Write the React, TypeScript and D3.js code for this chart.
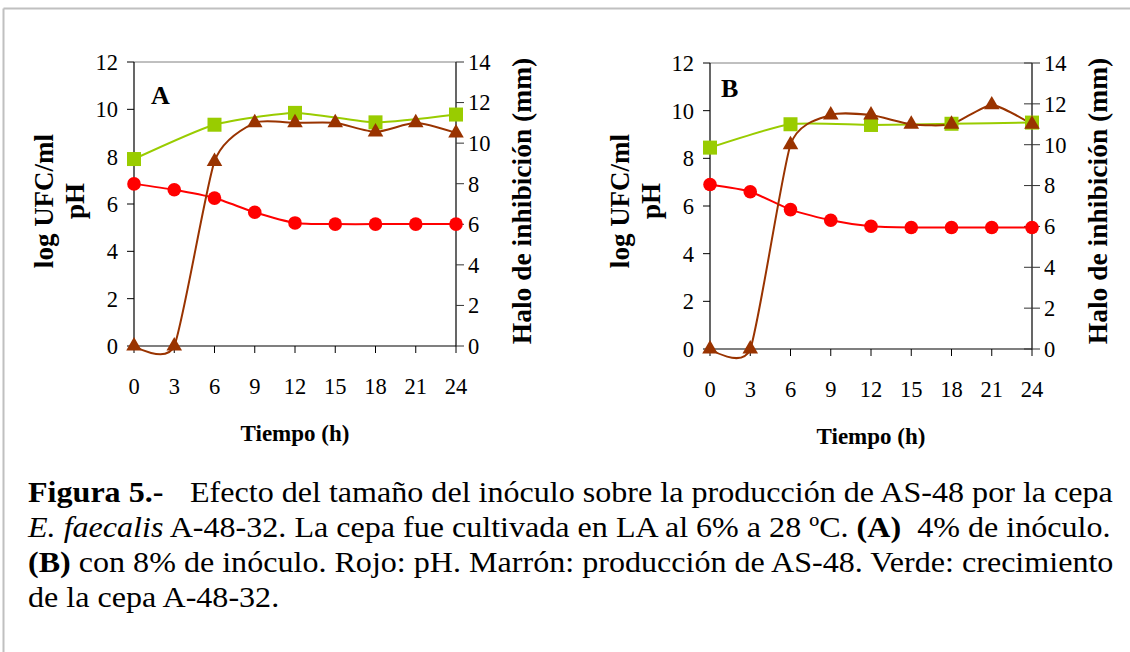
import React from "react";
import * as d3 from "d3";

const hours = [0, 3, 6, 9, 12, 15, 18, 21, 24];
const growthHours = [0, 6, 12, 18, 24];
const xTicks = [0, 3, 6, 9, 12, 15, 18, 21, 24];
const leftTicks = [0, 2, 4, 6, 8, 10, 12];
const rightTicks = [0, 2, 4, 6, 8, 10, 12, 14];

const growthA = [7.9, 9.35, 9.85, 9.45, 9.78];
const phA = [6.85, 6.6, 6.25, 5.65, 5.2, 5.15, 5.15, 5.15, 5.15];
const haloA = [0, 0, 9.1, 11.0, 11.0, 11.0, 10.55, 11.0, 10.5];

const growthB = [8.45, 9.43, 9.4, 9.45, 9.5];
const phB = [6.9, 6.6, 5.85, 5.4, 5.15, 5.1, 5.1, 5.1, 5.1];
const haloB = [0, 0, 10.0, 11.45, 11.45, 11.0, 11.0, 11.95, 11.0];

const GREEN = "#99cc00";
const RED = "#ff0000";
const BROWN = "#993300";
const FS = { fontFamily: "Liberation Serif" };

type PanelProps = {
  left: number; right: number; top: number; bottom: number;
  label: string; labelX: number; labelY: number;
  growth: number[]; ph: number[]; halo: number[];
  rightCross: boolean;
};

function Panel(p: PanelProps) {
  const x = d3.scaleLinear().domain([0, 24]).range([p.left, p.right]);
  const yL = d3.scaleLinear().domain([0, 12]).range([p.bottom, p.top]);
  const yR = d3.scaleLinear().domain([0, 14]).range([p.bottom, p.top]);
  const curve = d3.curveCardinal.tension(0.4);
  const lineL = d3.line<[number, number]>().x(d => x(d[0])).y(d => yL(d[1])).curve(curve);
  const lineR = d3.line<[number, number]>().x(d => x(d[0])).y(d => yR(d[1])).curve(curve);
  const gData = growthHours.map((h, i) => [h, p.growth[i]] as [number, number]);
  const pData = hours.map((h, i) => [h, p.ph[i]] as [number, number]);
  const hData = hours.map((h, i) => [h, p.halo[i]] as [number, number]);
  const tri = d3.symbol(d3.symbolTriangle, 105)()!;
  const sq = 14;
  const cy = 201;
  return (
    <g style={FS}>
      <line x1={p.left} x2={p.right} y1={p.top} y2={p.top} stroke="#808080" strokeWidth={1} />
      <line x1={p.left} x2={p.left} y1={p.top} y2={p.bottom} stroke="#000" strokeWidth={1.2} />
      <line x1={p.right} x2={p.right} y1={p.top} y2={p.bottom} stroke="#000" strokeWidth={1.2} />
      <line x1={p.left} x2={p.right} y1={p.bottom} y2={p.bottom} stroke="#000" strokeWidth={1.2} />
      {leftTicks.map(t => (
        <g key={"l" + t}>
          <line x1={p.left - 7} x2={p.left} y1={yL(t)} y2={yL(t)} stroke="#000" />
          <text x={p.left - 16} y={yL(t)} dy="0.35em" textAnchor="end" fontSize={22.5} style={FS}>{t}</text>
        </g>
      ))}
      {rightTicks.map(t => (
        <g key={"r" + t}>
          <line x1={p.rightCross ? p.right - 8 : p.right} x2={p.right + 8} y1={yR(t)} y2={yR(t)} stroke="#333" />
          <text x={p.right + 12} y={yR(t)} dy="0.35em" textAnchor="start" fontSize={22.5} style={FS}>{t}</text>
        </g>
      ))}
      {xTicks.map(t => (
        <g key={"x" + t}>
          <line x1={x(t)} x2={x(t)} y1={p.bottom} y2={p.bottom + 7} stroke="#000" />
          <text x={x(t)} y={p.bottom + 48} textAnchor="middle" fontSize={22.5} style={FS}>{t}</text>
        </g>
      ))}
      <text x={(p.left + p.right) / 2} y={p.bottom + 95} textAnchor="middle" fontSize={23} fontWeight="bold" style={FS}>Tiempo (h)</text>
      <text transform={`translate(${p.left - 81},${cy}) rotate(-90)`} textAnchor="middle" fontSize={27} fontWeight="bold" style={FS}>log UFC/ml</text>
      <text transform={`translate(${p.left - 50},${cy}) rotate(-90)`} textAnchor="middle" fontSize={27} fontWeight="bold" style={FS}>pH</text>
      <text transform={`translate(${p.right + 75},${cy}) rotate(-90)`} textAnchor="middle" fontSize={27.5} fontWeight="bold" style={FS}>Halo de inhibición (mm)</text>
      <text x={p.labelX} y={p.labelY} fontSize={26} fontWeight="bold" style={FS}>{p.label}</text>

      <path d={lineL(gData)!} fill="none" stroke={GREEN} strokeWidth={2} />
      <path d={lineL(pData)!} fill="none" stroke={RED} strokeWidth={2} />
      <path d={lineR(hData)!} fill="none" stroke={BROWN} strokeWidth={2} />
      {gData.map((d, i) => (
        <rect key={"g" + i} x={x(d[0]) - sq / 2} y={yL(d[1]) - sq / 2} width={sq} height={sq} fill={GREEN} />
      ))}
      {pData.map((d, i) => (
        <circle key={"p" + i} cx={x(d[0])} cy={yL(d[1])} r={6.8} fill={RED} />
      ))}
      {hData.map((d, i) => (
        <path key={"h" + i} d={tri} transform={`translate(${x(d[0])},${yR(d[1])})`} fill={BROWN} />
      ))}
    </g>
  );
}

export default function App() {
  const sx = 1.07;
  return (
    <svg width={1130} height={652} style={{ position: "absolute", left: 0, top: 0, background: "#fff" }}>
      <rect x={0} y={0} width={1130} height={652} fill="#fff" />
      <line x1={3.5} x2={1130} y1={8.5} y2={8.5} stroke="#c0c0c0" strokeWidth={2} />
      <line x1={3.5} x2={3.5} y1={8.5} y2={652} stroke="#c0c0c0" strokeWidth={2} />
      <Panel left={134} right={456} top={62} bottom={346} label="A" labelX={151} labelY={104}
        growth={growthA} ph={phA} halo={haloA} rightCross={false} />
      <Panel left={710} right={1032} top={63} bottom={349} label="B" labelX={721} labelY={97}
        growth={growthB} ph={phB} halo={haloB} rightCross={true} />
      <g transform={`translate(28,0) scale(${sx},1)`} style={FS} fontSize={30}>
        <text x={0} y={502} style={FS}>
          <tspan fontWeight="bold">Figura 5.-</tspan>
          <tspan x={(190 - 28) / sx}>{"Efecto del tamaño del inóculo sobre la producción de AS-48 por la cepa"}</tspan>
        </text>
        <text x={0} y={537} style={FS}>
          <tspan fontStyle="italic">E. faecalis</tspan>
          <tspan>{" A-48-32. La cepa fue cultivada en LA al 6% a 28 ºC. "}</tspan>
          <tspan fontWeight="bold">(A)</tspan>
          <tspan>{"\u00a0 4% de inóculo."}</tspan>
        </text>
        <text x={0} y={572} style={FS}>
          <tspan fontWeight="bold">(B)</tspan>
          <tspan>{" con 8% de inóculo. Rojo: pH. Marrón: producción de AS-48. Verde: crecimiento"}</tspan>
        </text>
        <text x={0} y={607} style={FS}>de la cepa A-48-32.</text>
      </g>
    </svg>
  );
}
